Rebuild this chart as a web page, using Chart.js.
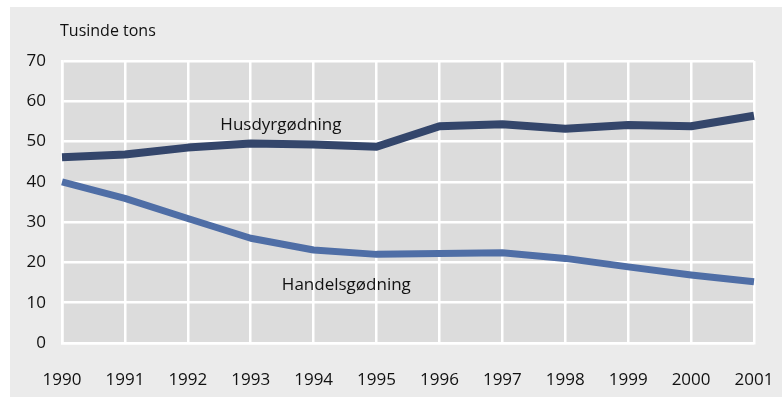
<!DOCTYPE html>
<html>
<head>
<meta charset="utf-8">
<script src="https://cdn.jsdelivr.net/npm/chart.js@4/dist/chart.umd.min.js"></script>
<style>
  html, body { margin: 0; padding: 0; background: #fff; }
  #wrap { width: 782px; height: 403px; }
</style>
</head>
<body>
<div id="wrap"><canvas id="chart" width="782" height="403"></canvas></div>
<script>
const years = ['1990', '1991', '1992', '1993', '1994', '1995', '1996', '1997', '1998', '1999', '2000', '2001'];
const husdyr = [46.1, 46.8, 48.5, 49.5, 49.3, 48.7, 53.8, 54.3, 53.2, 54.1, 53.8, 56.4];
const handels = [40.0, 35.9, 30.9, 26.0, 23.1, 22.0, 22.2, 22.4, 21.0, 18.9, 16.9, 15.2];
const yTicks = [0, 10, 20, 30, 40, 50, 60, 70];

const fontFamily = '"Open Sans", "Noto Sans", sans-serif';

// backgrounds: outer panel + plot area
const backdrop = {
  id: 'backdrop',
  beforeDraw(chart) {
    const ctx = chart.ctx;
    const a = chart.chartArea;
    ctx.save();
    ctx.fillStyle = '#ffffff';
    ctx.fillRect(0, 0, chart.width, chart.height);
    ctx.fillStyle = '#ebebeb';
    ctx.fillRect(10, 7, chart.width - 10, chart.height - 13);
    ctx.fillStyle = '#dcdcdc';
    ctx.fillRect(a.left, a.top, a.right - a.left, a.bottom - a.top);
    ctx.restore();
  }
};

// unit title and series names
const labels = {
  id: 'labels',
  afterDraw(chart) {
    const ctx = chart.ctx;
    const x = chart.scales.x;
    const y = chart.scales.y;
    ctx.save();
    ctx.fillStyle = '#111';
    ctx.font = '16px ' + fontFamily;
    ctx.textBaseline = 'middle';
    ctx.textAlign = 'left';
    ctx.fillText('Tusinde tons', 60, 31);
    ctx.font = '17px ' + fontFamily;
    ctx.textAlign = 'center';
    ctx.fillText('Husdyrgødning', x.getPixelForValue(3.48), y.getPixelForValue(54.1));
    ctx.fillText('Handelsgødning', x.getPixelForValue(4.52), y.getPixelForValue(14.4));
    ctx.restore();
  }
};

new Chart(document.getElementById('chart'), {
  type: 'line',
  data: {
    labels: years,
    datasets: [
      {
        label: 'Husdyrgødning',
        data: husdyr,
        borderColor: '#34466b',
        borderWidth: 8,
        pointRadius: 0,
        tension: 0,
        borderJoinStyle: 'round'
      },
      {
        label: 'Handelsgødning',
        data: handels,
        borderColor: '#4f6ea6',
        borderWidth: 7,
        pointRadius: 0,
        tension: 0,
        borderJoinStyle: 'round'
      }
    ]
  },
  options: {
    responsive: false,
    animation: false,
    layout: { padding: { left: 0, right: 28, top: 61, bottom: 0 } },
    plugins: {
      legend: { display: false },
      tooltip: { enabled: false }
    },
    scales: {
      x: {
        type: 'category',
        offset: false,
        grid: { color: '#ffffff', lineWidth: 2.5, drawTicks: false },
        border: { display: true, color: '#ffffff', width: 2.5 },
        ticks: { color: '#111', padding: 27, maxRotation: 0, autoSkip: false, font: { family: fontFamily, size: 17 } },
        afterFit(scale) {
          scale.height = 60;
          scale.paddingLeft = 0;
          scale.paddingRight = 0;
        }
      },
      y: {
        min: 0,
        max: 70,
        afterBuildTicks(scale) { scale.ticks = yTicks.map(v => ({ value: v })); },
        grid: { color: '#ffffff', lineWidth: 2.5, drawTicks: false },
        border: { display: true, color: '#ffffff', width: 2.5 },
        ticks: { color: '#111', padding: 16, font: { family: fontFamily, size: 17 } },
        afterFit(scale) {
          scale.width = 62;
          scale.paddingTop = 0;
          scale.paddingBottom = 0;
        }
      }
    }
  },
  plugins: [backdrop, labels]
});
</script>
</body>
</html>
